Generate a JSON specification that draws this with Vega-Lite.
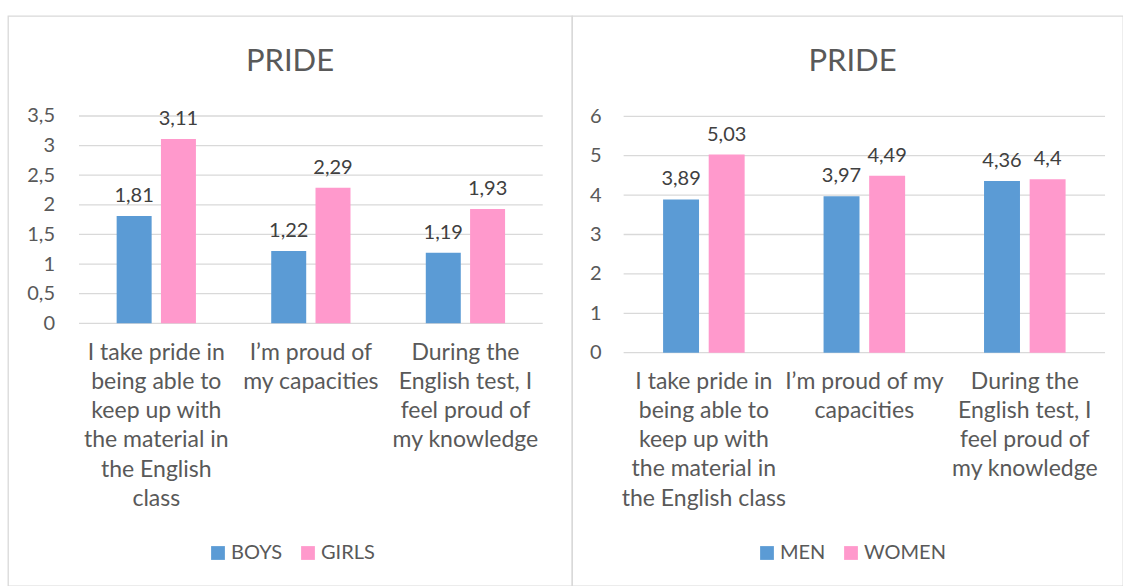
{
  "$schema": "https://vega.github.io/schema/vega-lite/v6.json",
  "padding": {"left": 7, "top": 15, "right": 0, "bottom": 0},
  "spacing": 0,
  "bounds": "flush",
  "datasets": {
    "left": [
      {"question": "I take pride in being able to keep up with the material in the English class", "group": "BOYS", "v": 1.81},
      {"question": "I take pride in being able to keep up with the material in the English class", "group": "GIRLS", "v": 3.11},
      {"question": "I’m proud of my capacities", "group": "BOYS", "v": 1.22},
      {"question": "I’m proud of my capacities", "group": "GIRLS", "v": 2.29},
      {"question": "During the English test, I feel proud of my knowledge", "group": "BOYS", "v": 1.19},
      {"question": "During the English test, I feel proud of my knowledge", "group": "GIRLS", "v": 1.93}
    ],
    "right": [
      {"question": "I take pride in being able to keep up with the material in the English class", "group": "MEN", "v": 3.89},
      {"question": "I take pride in being able to keep up with the material in the English class", "group": "WOMEN", "v": 5.03},
      {"question": "I’m proud of my capacities", "group": "MEN", "v": 3.97},
      {"question": "I’m proud of my capacities", "group": "WOMEN", "v": 4.49},
      {"question": "During the English test, I feel proud of my knowledge", "group": "MEN", "v": 4.36},
      {"question": "During the English test, I feel proud of my knowledge", "group": "WOMEN", "v": 4.4}
    ],
    "gridLeft": [{"g": 0}, {"g": 0.5}, {"g": 1}, {"g": 1.5}, {"g": 2}, {"g": 2.5}, {"g": 3}, {"g": 3.5}],
    "gridRight": [{"g": 0}, {"g": 1}, {"g": 2}, {"g": 3}, {"g": 4}, {"g": 5}, {"g": 6}]
  },
  "hconcat": [
    {
      "width": 564,
      "height": 570,
      "title": {"text": "PRIDE", "fontSize": 31, "font": "Lato", "fontWeight": "normal", "color": "#595959", "anchor": "middle", "frame": "group", "baseline": "alphabetic", "offset": -86},
      "layer": [
        {
          "data": {"name": "gridLeft"},
          "mark": {"type": "rule", "color": "#D9D9D9", "strokeWidth": 1.3},
          "encoding": {
            "y": {
              "field": "g", "type": "quantitative",
              "scale": {"domain": [-4.435, 5.188], "nice": false, "zero": false},
              "axis": {"title": null, "values": [0, 0.5, 1, 1.5, 2, 2.5, 3, 3.5], "format": "~g", "domain": false, "ticks": false, "grid": false, "labelPadding": 0, "offset": -46.5, "labelFontSize": 20, "labelColor": "#595959"}
            },
            "x": {"datum": "I take pride in being able to keep up with the material in the English class", "type": "nominal", "bandPosition": 0},
            "x2": {"datum": "During the English test, I feel proud of my knowledge", "bandPosition": 1}
          }
        },
        {
          "data": {"name": "left"},
          "mark": {"type": "bar"},
          "encoding": {
            "x": {
              "field": "question", "type": "nominal",
              "scale": {"domain": ["I take pride in being able to keep up with the material in the English class", "I’m proud of my capacities", "During the English test, I feel proud of my knowledge"], "paddingInner": 0, "paddingOuter": 0.3244, "align": 0.708},
              "axis": {
                "title": null, "domain": false, "ticks": false, "labelAngle": 0, "labelAlign": "center", "labelPadding": 0, "offset": -245,
                "labelFontSize": 23, "labelLineHeight": 29.3, "labelColor": "#595959", "labelLimit": 400, "labelOverlap": false, "labelBaseline": "top",
                "labelExpr": "datum.value == 'I take pride in being able to keep up with the material in the English class' ? ['I take pride in','being able to','keep up with','the material in','the English','class'] : datum.value == 'I’m proud of my capacities' ? ['I’m proud of','my capacities'] : ['During the','English test, I','feel proud of','my knowledge']"
              }
            },
            "xOffset": {"field": "group", "type": "nominal", "scale": {"paddingInner": 0.21, "paddingOuter": 0.85}},
            "y": {
              "field": "v", "type": "quantitative",
              "axis": {"title": null, "values": [0, 0.5, 1, 1.5, 2, 2.5, 3, 3.5], "format": "~g", "domain": false, "ticks": false, "grid": false, "labelPadding": 0, "offset": -46.5, "labelFontSize": 20, "labelColor": "#595959"}
            },
            "y2": {"datum": 0},
            "color": {
              "field": "group", "type": "nominal",
              "scale": {"domain": ["BOYS", "GIRLS"], "range": ["#5B9BD5", "#FF99CC"]},
              "legend": {"orient": "none", "legendX": 200, "legendY": 527, "padding": 0, "direction": "horizontal", "title": null, "symbolType": "square", "symbolSize": 190, "symbolStrokeWidth": 0, "labelFontSize": 20, "labelColor": "#595959", "columnPadding": 15, "labelOffset": 3}
            }
          }
        },
        {
          "data": {"name": "left"},
          "mark": {"type": "text", "baseline": "alphabetic", "align": "center", "dy": -14, "fontSize": 20, "color": "#404040"},
          "encoding": {
            "x": {"field": "question", "type": "nominal"},
            "xOffset": {"field": "group", "type": "nominal"},
            "y": {"field": "v", "type": "quantitative"},
            "text": {"field": "v", "type": "quantitative"}
          }
        }
      ]
    },
    {
      "width": 551,
      "height": 570,
      "title": {"text": "PRIDE", "fontSize": 31, "font": "Lato", "fontWeight": "normal", "color": "#595959", "anchor": "middle", "frame": "group", "baseline": "alphabetic", "offset": -86, "dx": 5},
      "layer": [
        {
          "data": {"name": "gridRight"},
          "mark": {"type": "rule", "color": "#D9D9D9", "strokeWidth": 1.3},
          "encoding": {
            "y": {
              "field": "g", "type": "quantitative",
              "scale": {"domain": [-5.921, 8.546], "nice": false, "zero": false},
              "axis": {"title": null, "values": [0, 1, 2, 3, 4, 5, 6], "format": "~g", "domain": false, "ticks": false, "grid": false, "labelPadding": 0, "offset": -29, "labelFontSize": 20, "labelColor": "#595959"}
            },
            "x": {"datum": "I take pride in being able to keep up with the material in the English class", "type": "nominal", "bandPosition": 0},
            "x2": {"datum": "During the English test, I feel proud of my knowledge", "bandPosition": 1}
          }
        },
        {
          "data": {"name": "right"},
          "mark": {"type": "bar"},
          "encoding": {
            "x": {
              "field": "question", "type": "nominal",
              "scale": {"domain": ["I take pride in being able to keep up with the material in the English class", "I’m proud of my capacities", "During the English test, I feel proud of my knowledge"], "paddingInner": 0, "paddingOuter": 0.2168, "align": 0.742},
              "axis": {
                "title": null, "domain": false, "ticks": false, "labelAngle": 0, "labelAlign": "center", "labelPadding": 0, "offset": -216,
                "labelFontSize": 23, "labelLineHeight": 29.3, "labelColor": "#595959", "labelLimit": 400, "labelOverlap": false, "labelBaseline": "top",
                "labelExpr": "datum.value == 'I take pride in being able to keep up with the material in the English class' ? ['I take pride in','being able to','keep up with','the material in','the English class'] : datum.value == 'I’m proud of my capacities' ? ['I’m proud of my','capacities'] : ['During the','English test, I','feel proud of','my knowledge']"
              }
            },
            "xOffset": {"field": "group", "type": "nominal", "scale": {"paddingInner": 0.212, "paddingOuter": 0.865}},
            "y": {
              "field": "v", "type": "quantitative",
              "axis": {"title": null, "values": [0, 1, 2, 3, 4, 5, 6], "format": "~g", "domain": false, "ticks": false, "grid": false, "labelPadding": 0, "offset": -29, "labelFontSize": 20, "labelColor": "#595959"}
            },
            "y2": {"datum": 0},
            "color": {
              "field": "group", "type": "nominal",
              "scale": {"domain": ["MEN", "WOMEN"], "range": ["#5B9BD5", "#FF99CC"]},
              "legend": {"orient": "none", "legendX": 185, "legendY": 527, "padding": 0, "direction": "horizontal", "title": null, "symbolType": "square", "symbolSize": 190, "symbolStrokeWidth": 0, "labelFontSize": 20, "labelColor": "#595959", "columnPadding": 15, "labelOffset": 3}
            }
          }
        },
        {
          "data": {"name": "right"},
          "mark": {"type": "text", "baseline": "alphabetic", "align": "center", "dy": -14, "fontSize": 20, "color": "#404040"},
          "encoding": {
            "x": {"field": "question", "type": "nominal"},
            "xOffset": {"field": "group", "type": "nominal"},
            "y": {"field": "v", "type": "quantitative"},
            "text": {"field": "v", "type": "quantitative"}
          }
        }
      ]
    }
  ],
  "resolve": {"scale": {"x": "independent", "y": "independent", "color": "independent", "xOffset": "independent"}},
  "config": {
    "font": "Lato",
    "view": {"stroke": "#D9D9D9", "strokeWidth": 1.3},
    "locale": {"number": {"decimal": ",", "thousands": ".", "grouping": [3], "currency": ["", " €"]}}
  }
}
